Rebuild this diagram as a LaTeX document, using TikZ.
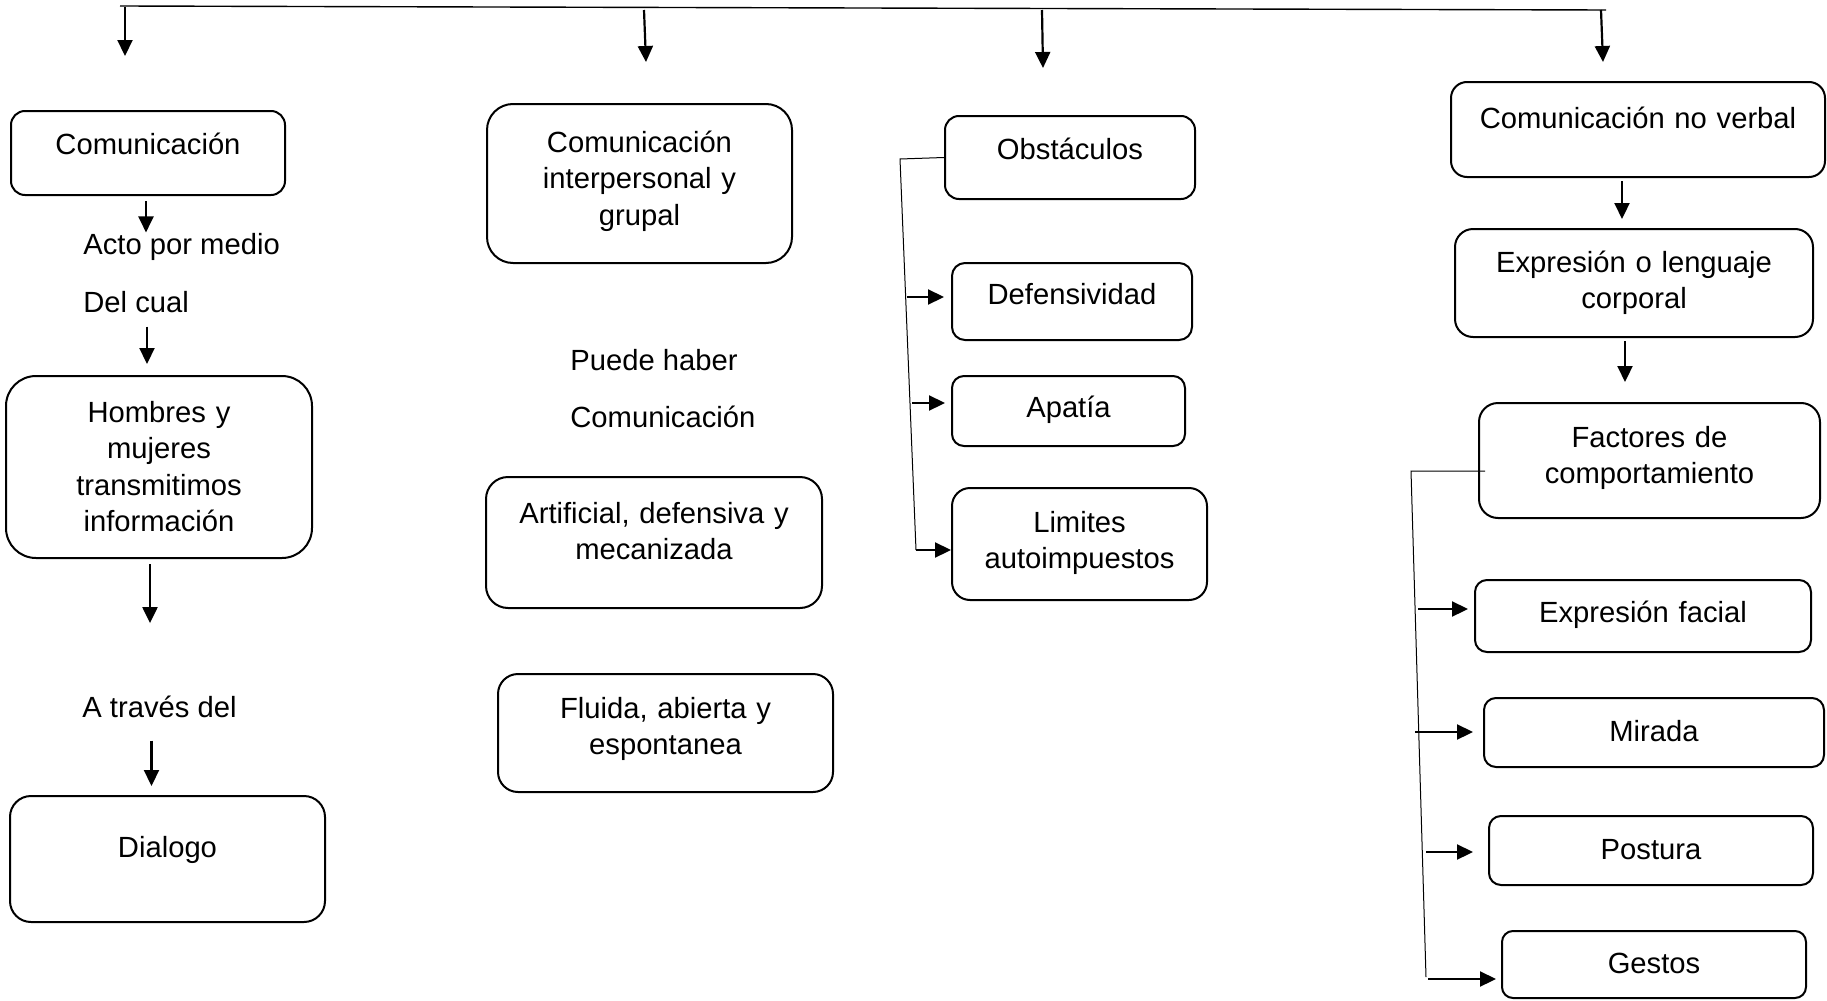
\documentclass[tikz,border=0pt]{standalone}
\usepackage{fontspec}
\setmainfont{Liberation Sans}
\usetikzlibrary{arrows.meta}

\begin{document}
\begin{tikzpicture}[x=0.5pt, y=-0.5pt,
        font=\fontsize{14.6}{18.25}\selectfont,
        bx/.style={draw, line width=1pt, inner sep=0pt, align=center, anchor=base},
        lbl/.style={inner sep=0pt, anchor=base west},
        arr/.style={line width=1.1pt, -{Triangle[length=8pt, width=7.5pt]}},
        fine/.style={line width=0.5pt}]
            \useasboundingbox (0,0) rectangle (1827,1001);
            % Top bar and its arrows
            \coordinate (barL) at (120,6);
            \coordinate (barR) at (1606,10);
            \draw[line width=0.7pt] (barL) -- (barR);
            \foreach \i/\xa/\ya/\xb/\yb in {1/125/7/125/56, 2/644/10/646/62, 3/1042/10/1043/68, 4/1601/10/1603/62}{
                \coordinate (top\i) at (\xa,\ya);
                \coordinate (tip\i) at (\xb,\yb);
                \draw[arr] (top\i) -- (tip\i);
            }
            % Column 1
            \node[bx, text width=137pt, text height=21.5pt, text depth=20.5pt, rounded corners=7pt]    (com)     at (148,154)   {Comunicación};
            \node[lbl]                                                                                (acto)    at (83,254)    {Acto por medio};
            \node[lbl]                                                                                (delcual) at (83,312)    {Del cual};
            \node[bx, text width=153pt, text height=23pt, text depth=68pt, rounded corners=15pt]       (hombres) at (159,422)   {Hombres y\\ mujeres\\ transmitimos\\ información};
            \node[lbl]                                                                                (atraves) at (82,717)    {A través del};
            \node[bx, text width=157.5pt, text height=30.5pt, text depth=32.5pt, rounded corners=10.5pt] (dialogo) at (167.5,857) {Dialogo};
            \draw[arr, shorten <=2.5pt]                   ([xshift=-1pt]com.south)       -- ([xshift=-1pt]com.south |- acto.north);
            \draw[arr, shorten <=7pt, shorten >=5.5pt]    ([xshift=-6pt]hombres.north |- delcual.south) -- ([xshift=-6pt]hombres.north);
            \draw[arr, shorten <=2.5pt, shorten >=36pt]   ([xshift=-4.5pt]hombres.south) -- ([xshift=-4.5pt]hombres.south |- atraves.north);
            \draw[arr, shorten <=11.5pt, shorten >=4.5pt] ([xshift=-8pt]dialogo.north |- atraves.south) -- ([xshift=-8pt]dialogo.north);
            % Column 2
            \node[bx, text width=152.5pt, text height=24pt, text depth=55.5pt, rounded corners=13pt]   (interp)  at (639.5,152) {Comunicación\\ interpersonal y\\ grupal};
            \node[lbl]                                                                                (puede)   at (570,370)   {Puede haber};
            \node[lbl]                                                                                (comun)   at (570,427)   {Comunicación};
            \node[bx, text width=168pt, text height=23pt, text depth=42.5pt, rounded corners=11pt]     (artif)   at (654,523)   {Artificial, defensiva y\\ mecanizada};
            \node[bx, text width=167.5pt, text height=22pt, text depth=37pt, rounded corners=10pt]     (fluida)  at (665.5,718) {Fluida, abierta y\\ espontanea};
            % Column 3
            \node[bx, text width=125pt, text height=21.5pt, text depth=20pt, rounded corners=7pt]      (obst)    at (1070,159)   {Obstáculos};
            \node[bx, text width=120pt, text height=20.5pt, text depth=18pt, rounded corners=6.5pt]    (defens)  at (1072,304)   {Defensividad};
            \node[bx, text width=116.5pt, text height=20.5pt, text depth=14.5pt, rounded corners=6pt]  (apatia)  at (1068.5,417) {Apatía};
            \node[bx, text width=127.5pt, text height=22pt, text depth=34pt, rounded corners=9pt]      (limites) at (1079.5,532) {Limites\\ autoimpuestos};
            \coordinate (s3a) at (900,159);
            \coordinate (s3b) at (916,550);
            \draw[fine] (obst.west) -- (s3a) -- (s3b);
            \foreach \b/\xa/\ya/\g in {defens/907/297/3.5pt, apatia/912/403/3pt, limites/916/550/0pt}{
                \coordinate (\b0) at (\xa,\ya);
                \draw[arr, shorten >=\g] (\b0) -- (\b0 -| \b.west);
            }
            % Column 4
            \node[bx, text width=187pt, text height=23pt, text depth=24.5pt, rounded corners=8pt]      (noverbal) at (1638,128)   {Comunicación no verbal};
            \node[bx, text width=179pt, text height=21.5pt, text depth=32.5pt, rounded corners=9pt]    (corporal) at (1634,272)   {Expresión o lenguaje\\ corporal};
            \node[bx, text width=170.5pt, text height=22pt, text depth=35.5pt, rounded corners=9.5pt]  (factores) at (1649.5,447) {Factores de\\ comportamiento};
            \node[bx, text width=168pt, text height=21pt, text depth=15pt, rounded corners=6pt]        (facial)   at (1643,622)   {Expresión facial};
            \node[bx, text width=170pt, text height=21.5pt, text depth=13pt, rounded corners=6pt]      (mirada)   at (1654,741)   {Mirada};
            \node[bx, text width=162pt, text height=21.5pt, text depth=13pt, rounded corners=6pt]      (postura)  at (1651,859)   {Postura};
            \node[bx, text width=152pt, text height=21pt, text depth=12.5pt, rounded corners=5.5pt]    (gestos)   at (1654,973)   {Gestos};
            \draw[arr, shorten <=1.5pt, shorten >=4.5pt] ([xshift=-8pt]noverbal.south)   -- ([xshift=-8pt]noverbal.south |- corporal.north);
            \draw[arr, shorten <=1.5pt, shorten >=10pt]  ([xshift=-4.5pt]corporal.south) -- ([xshift=-4.5pt]corporal.south |- factores.north);
            \coordinate (s4a) at (1411,471);
            \coordinate (s4b) at (1426,977);
            \draw[fine] ([xshift=3.5pt]factores.west |- s4a) -- (s4a) -- (s4b);
            \foreach \b/\xa/\ya/\g in {facial/1418/609/3pt, mirada/1415/732/5pt, postura/1426/852/7.5pt, gestos/1428/979/2.5pt}{
                \coordinate (\b0) at (\xa,\ya);
                \draw[arr, shorten >=\g] (\b0) -- (\b0 -| \b.west);
            }
        \end{tikzpicture}
\end{document}
